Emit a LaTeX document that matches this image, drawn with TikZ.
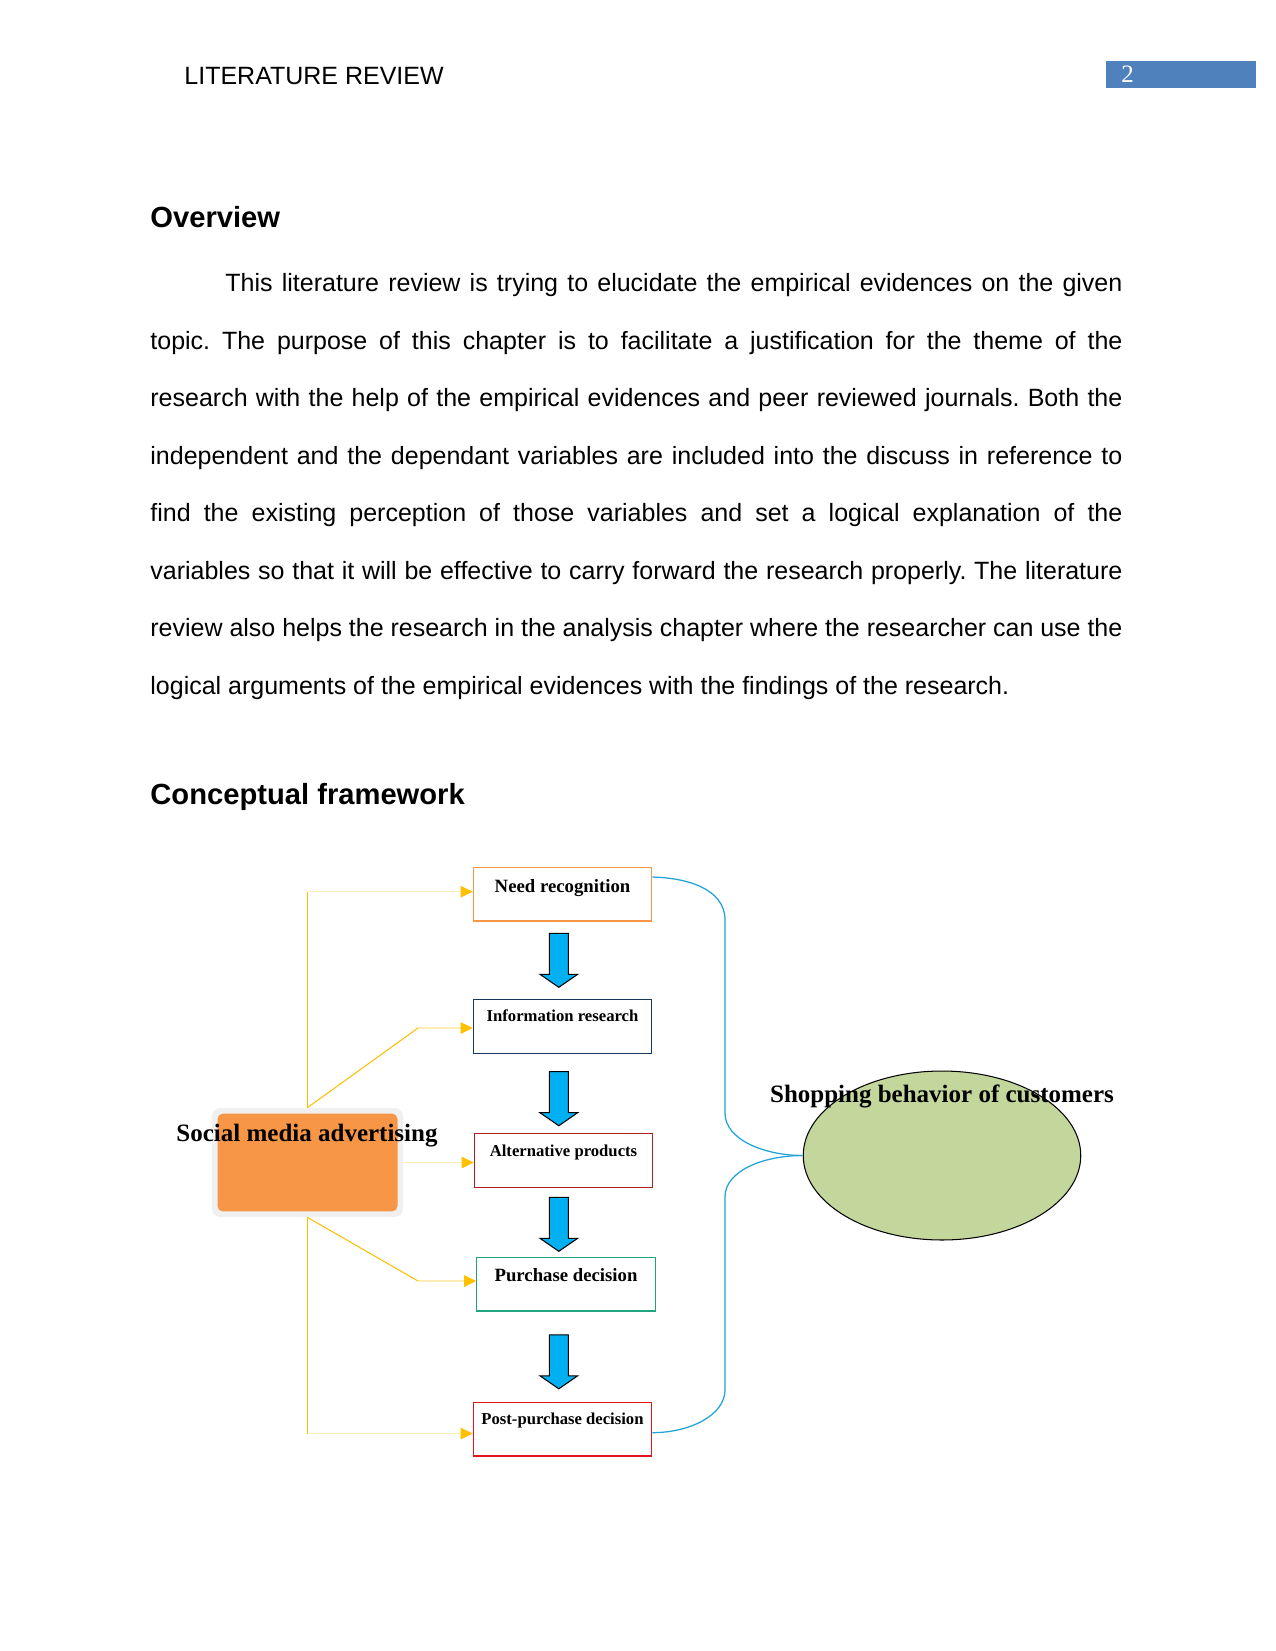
\documentclass[tikz,border=0pt]{standalone}
\usepackage{fontspec}
\setmainfont{Liberation Serif}
\setsansfont{Liberation Sans}
\usetikzlibrary{calc,arrows.meta,shapes.geometric}
\definecolor{pnblue}{HTML}{4F81BD}
\definecolor{needc}{HTML}{F79646}
\definecolor{infoc}{HTML}{17365D}
\definecolor{altc}{HTML}{B01E23}
\definecolor{purchc}{HTML}{1FA57F}
\definecolor{postc}{HTML}{E3141B}
\definecolor{arrowfill}{HTML}{00B0F0}
\definecolor{curvec}{HTML}{1FA3D8}
\definecolor{ygold}{HTML}{FFC000}
\definecolor{ylight}{HTML}{FFEDB5}
\definecolor{orangefill}{HTML}{F79646}
\definecolor{greenfill}{HTML}{C3D69B}
\frenchspacing
\begin{document}
\begin{tikzpicture}[x=0.48pt,y=-0.48pt,
  bodyline/.style={anchor=base west, inner sep=0pt, font=\sffamily\fontsize{12}{14}\selectfont},
  heading/.style={anchor=base west, inner sep=0pt, font=\sffamily\bfseries\fontsize{14}{16}\selectfont},
  stage/.style={draw, line width=0.6pt, minimum width=85.7pt, minimum height=25.8pt, inner sep=0pt, fill=white},
  stagebig/.style={anchor=base, inner sep=0pt, font=\bfseries\fontsize{9}{10}\selectfont},
  stagesmall/.style={anchor=base, inner sep=0pt, font=\bfseries\fontsize{8}{9}\selectfont},
  bigtext/.style={anchor=base, inner sep=0pt, font=\bfseries\fontsize{12}{14}\selectfont},
  yline/.style={draw=ygold, line width=0.5pt},
  yarrow/.style={draw=ylight, line width=0.5pt, -{Triangle[length=5.8pt,width=5.6pt,color=ygold]}},
  bcurve/.style={draw=curvec, line width=0.6pt},
  barrow/.pic={\draw[fill=arrowfill, line width=0.5pt, line join=miter]
     (-9.5,0) -- (9.5,0) -- (9.5,41) -- (18.85,41) -- (0,54) -- (-18.85,41) -- (-9.5,41) -- cycle;}
]
\useasboundingbox[fill=white] (0,0) rectangle (1275,1651);

% header
\node[bodyline] (header) at (184,84.5) {LITERATURE REVIEW};
\node[fill=pnblue, minimum width=71.9pt, minimum height=13.1pt, inner sep=0pt] (pagebox) at (1180.9,74.7) {};
\node[anchor=base west, inner sep=0pt, text=white, font=\fontsize{12}{14}\selectfont] (pagenum) at (1121,82.8) {2};

% overview
\node[heading] (overview) at (150,227.7) {Overview};
\node[bodyline] (l1) at (225,291.5) {\hbox to 430.56pt{This literature review is trying to elucidate the empirical evidences on the given}};
\node[bodyline] (l2) at (150,349) {\hbox to 466.56pt{topic. The purpose of this chapter is to facilitate a justification for the theme of the}};
\node[bodyline] (l3) at (150,406.6) {\hbox to 466.56pt{research with the help of the empirical evidences and peer reviewed journals. Both the}};
\node[bodyline] (l4) at (150,464.1) {\hbox to 466.56pt{independent and the dependant variables are included into the discuss in reference to}};
\node[bodyline] (l5) at (150,521.6) {\hbox to 466.56pt{find the existing perception of those variables and set a logical explanation of the}};
\node[bodyline] (l6) at (150,579.2) {\hbox to 466.56pt{variables so that it will be effective to carry forward the research properly. The literature}};
\node[bodyline] (l7) at (150,636.7) {\hbox to 466.56pt{review also helps the research in the analysis chapter where the researcher can use the}};
\node[bodyline] (l8) at (150,694.2) {logical arguments of the empirical evidences with the findings of the research.};

\node[heading] (concept) at (150,804.3) {Conceptual framework};

% stage boxes
\node[stage, draw=needc] (need) at (562.5,894.15) {};
\node[stage, draw=infoc] (info) at (562.5,1026.3) {};
\node[stage, draw=altc] (alt) at (563.5,1160.3) {};
\node[stage, draw=purchc] (purch) at (566,1284.15) {};
\node[stage, draw=postc] (post) at (562.5,1429.15) {};
\node[stagebig] (needT) at ($(need.north)+(0,25.5)$) {Need recognition};
\node[stagesmall] (infoT) at ($(info.north)+(0,23)$) {Information research};
\node[stagesmall] (altT) at ($(alt.north)+(0,23.2)$) {Alternative products};
\node[stagebig] (purchT) at ($(purch.north)+(0,25)$) {Purchase decision};
\node[stagesmall] (postT) at ($(post.north)+(0,23.2)$) {Post-purchase decision};

% block arrows
\pic at (558.8,933.3) {barrow};
\pic at (558.8,1071.7) {barrow};
\pic at (558.8,1197.3) {barrow};
\pic at (558.8,1334.8) {barrow};

% social media advertising
\node[fill=black!6, rounded corners=4pt, minimum width=91.7pt, minimum height=52.3pt, inner sep=0pt] (sma) at (307.5,1162.5) {};
\node[fill=orangefill, rounded corners=2.5pt, minimum width=86.4pt, minimum height=46.9pt, inner sep=0pt] (smabox) at (sma.center) {};

% yellow connectors
\coordinate (k1) at (307.5,891.7);
\coordinate (k2) at (418,1028);
\coordinate (k4) at (418,1281);
\coordinate (k5) at (307.5,1433.5);
\draw[yline] (sma.north) -- (k1);
\draw[yarrow] (k1) -- (k1 -| need.west);
\draw[yline] (sma.north) -- (k2);
\draw[yarrow] (k2) -- (k2 -| info.west);
\draw[yarrow] (sma.east) -- (sma.east -| alt.west);
\draw[yline] (sma.south) -- (k4);
\draw[yarrow] (k4) -- (k4 -| purch.west);
\draw[yline] (sma.south) -- (k5);
\draw[yarrow] (k5) -- (k5 -| post.west);

\node[bigtext] (smaT) at (307,1141.5) {Social media advertising};

% shopping behaviour
\node[ellipse, draw=black, line width=0.5pt, fill=greenfill, minimum width=133.2pt, minimum height=81.1pt, inner sep=0pt] (shop) at (942,1155.5) {};
\node[bigtext] (shopT) at (942,1102.5) {Shopping behavior of customers};

% blue brace curves
\coordinate (b0) at ($(need.north east)+(0,10.4)$);
\coordinate (b5) at ($(post.east)+(0,3.5)$);
\draw[bcurve] (b0) .. controls (685,877.7) and (725,888) .. (725,920) -- (725,1113)
   .. controls (725,1140) and (765,1155.5) .. (shop.west);
\draw[bcurve] (shop.west) .. controls (765,1155.5) and (725,1170) .. (725,1197) -- (725,1390)
   .. controls (725,1415) and (690,1432.7) .. (b5);
\end{tikzpicture}
\end{document}
